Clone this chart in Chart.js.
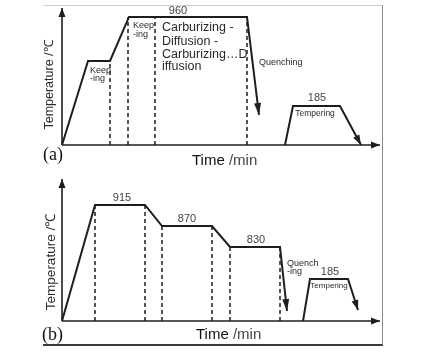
<!DOCTYPE html>
<html><head><meta charset="utf-8">
<script src="https://cdn.jsdelivr.net/npm/chart.js@4.4.1/dist/chart.umd.min.js"></script>
<style>
html,body{margin:0;padding:0;background:#fff;}
body{width:435px;height:353px;position:relative;overflow:hidden;}
#frame{position:absolute;left:43px;top:5px;width:339px;height:338px;border-top:1px solid #cfcfcf;border-right:1px solid #8a8a8a;border-bottom:2px solid #3a3a3a;}
canvas{position:absolute;left:0;}
#ca{top:0;}
#cb{top:176px;}
</style></head>
<body>
<div id="frame"></div>
<canvas id="ca" width="435" height="176"></canvas>
<canvas id="cb" width="435" height="177"></canvas>
<script>
// ---------- Panel (a): carburizing – diffusion process (schematic) ----------
const timeA      = [0, 26, 48, 67, 185, 197];      // heating, keeping, heating, carburizing/diffusion, quench
const levelA     = [0, 630, 630, 960, 960, 225];   // schematic temperature levels
const temperTimeA  = [223, 231, 278, 299];
const temperLevelA = [0, 292, 292, 0];
const dashTimeA  = [48, 66, 93, 185];
const dashTopA   = [630, 960, 960, 960];
const plateauLabelsA = ["960", "185"];

// ---------- Panel (b): stepped carburizing process (schematic) ----------
const timeB      = [0, 33, 83, 100, 150, 168, 218, 225];
const levelB     = [0, 915, 915, 749, 749, 584, 584, 79];
const temperTimeB  = [241, 248, 286, 296];
const temperLevelB = [0, 331, 331, 87];
const dashTimeB  = [33, 83, 100, 150, 168, 218];
const dashTopB   = [915, 915, 749, 749, 584, 584];
const plateauLabelsB = ["915", "870", "830", "185"];

const X_MAX = 318;
const Y_MAX_A = 1027;
const Y_MAX_B = 1120;

const INK = '#1e1e1e';
const SANS = '"Liberation Sans", Arial, sans-serif';
const SERIF = '"Liberation Serif", "Times New Roman", serif';

function pts(xs, ys){ return xs.map((x,i)=>({x:x, y:ys[i]})); }

function lineDs(data, opts){
  return Object.assign({type:'scatter', data:data, showLine:true, borderColor:INK, borderWidth:2,
    pointRadius:0, pointHoverRadius:0, fill:false, clip:false, tension:0}, opts||{});
}

function buildDatasets(time, level, tT, tL, dT, dTop, yMax){
  const ds = [];
  ds.push(lineDs([{x:0,y:0},{x:0,y:yMax}], {borderWidth:1.6, arrow:{len:9, half:3.5}}));
  ds.push(lineDs([{x:0,y:0},{x:X_MAX,y:0}], {borderWidth:1.6, arrow:{len:9, half:3.5}}));
  dT.forEach((x,i)=>{
    ds.push(lineDs([{x:x,y:0},{x:x,y:dTop[i]}], {borderWidth:1.5, borderDash:[4,3]}));
  });
  ds.push(lineDs(pts(time, level), {arrow:{len:12, half:3.5}}));
  ds.push(lineDs(pts(tT, tL), {arrow:{len:10, half:3.5}}));
  return ds;
}

const drawPlugin = {
  id:'schematic',
  afterDatasetsDraw(chart){
    const ctx = chart.ctx;
    const xs = chart.scales.x, ys = chart.scales.y;
    // arrowheads
    chart.data.datasets.forEach(ds=>{
      if(!ds.arrow) return;
      const n = ds.data.length;
      const a = ds.data[n-2], b = ds.data[n-1];
      const x1 = xs.getPixelForValue(a.x), y1 = ys.getPixelForValue(a.y);
      const x2 = xs.getPixelForValue(b.x), y2 = ys.getPixelForValue(b.y);
      const ang = Math.atan2(y2-y1, x2-x1);
      const L = ds.arrow.len, H = ds.arrow.half;
      ctx.save();
      ctx.translate(x2, y2);
      ctx.rotate(ang);
      ctx.beginPath();
      ctx.moveTo(0,0);
      ctx.lineTo(-L, -H);
      ctx.lineTo(-L, H);
      ctx.closePath();
      ctx.fillStyle = INK;
      ctx.fill();
      ctx.restore();
    });
    // annotations
    const notes = chart.options.plugins.schematic.notes || [];
    notes.forEach(n=>{
      ctx.save();
      ctx.font = n.font;
      ctx.fillStyle = n.color || '#2a2a2a';
      ctx.textAlign = n.align || 'center';
      ctx.textBaseline = 'middle';
      ctx.fillText(n.text, xs.getPixelForValue(n.x), ys.getPixelForValue(n.y));
      ctx.restore();
    });
    // titles (fixed layout)
    const t = chart.options.plugins.schematic.titles;
    ctx.save();
    ctx.fillStyle = '#2a2a2a';
    ctx.textBaseline = 'middle';
    ctx.save();
    ctx.translate(t.yTitleX, t.yTitleY);
    ctx.rotate(-Math.PI/2);
    ctx.textAlign = 'center';
    ctx.font = t.yFont;
    ctx.fillText('Temperature /℃', 0, 0);
    ctx.restore();
    ctx.textAlign = 'left';
    ctx.font = '15px ' + SANS;
    ctx.fillStyle = '#111';
    ctx.fillText('Time', t.xTitleX, t.xTitleY);
    const w = ctx.measureText('Time ').width;
    ctx.fillStyle = '#444';
    ctx.fillText('/min', t.xTitleX + w, t.xTitleY);
    ctx.fillStyle = '#111';
    ctx.font = '18px ' + SERIF;
    ctx.fillText(t.tag, t.tagX, t.tagY);
    ctx.restore();
  }
};

function makeChart(id, datasets, yMax, pad, notes, titles){
  return new Chart(document.getElementById(id), {
    type:'scatter',
    data:{datasets:datasets},
    options:{
      responsive:false, animation:false, events:[],
      layout:{padding:pad},
      scales:{
        x:{type:'linear', min:0, max:X_MAX, display:false},
        y:{type:'linear', min:0, max:yMax, display:false}
      },
      plugins:{legend:{display:false}, tooltip:{enabled:false},
        schematic:{notes:notes, titles:titles}}
    },
    plugins:[drawPlugin]
  });
}

const small = '9px ' + SANS;
const mid = '11px ' + SANS;
const big = '12.5px ' + SANS;

makeChart('ca',
  buildDatasets(timeA, levelA, temperTimeA, temperLevelA, dashTimeA, dashTopA, Y_MAX_A),
  Y_MAX_A, {left:62, right:55, top:8, bottom:31},
  [
    {text:plateauLabelsA[0], x:116, y:1005, font:mid, color:'#444'},
    {text:'Keep', x:28, y:562, font:small, align:'left'},
    {text:'-ing', x:28, y:495, font:small, align:'left'},
    {text:'Keep', x:71, y:892, font:small, align:'left'},
    {text:'-ing', x:71, y:825, font:small, align:'left'},
    {text:'Carburizing -', x:100, y:877, font:big, align:'left'},
    {text:'Diffusion -', x:100, y:772, font:big, align:'left'},
    {text:'Carburizing…D', x:100, y:675, font:big, align:'left'},
    {text:'iffusion', x:100, y:585, font:big, align:'left'},
    {text:'Quenching', x:197, y:615, font:small, align:'left'},
    {text:plateauLabelsA[1], x:255, y:352, font:mid, color:'#444'},
    {text:'Tempering', x:253, y:235, font:'8.5px ' + SANS}
  ],
  {yTitleX:50, yTitleY:85, yFont:'12.5px ' + SANS, xTitleX:192, xTitleY:161, tag:'(a)', tagX:43, tagY:155}
);

makeChart('cb',
  buildDatasets(timeB, levelB, temperTimeB, temperLevelB, dashTimeB, dashTopB, Y_MAX_B),
  Y_MAX_B, {left:62, right:55, top:3, bottom:32},
  [
    {text:plateauLabelsB[0], x:60, y:970, font:mid, color:'#444'},
    {text:plateauLabelsB[1], x:125, y:805, font:mid, color:'#444'},
    {text:plateauLabelsB[2], x:194, y:639, font:mid, color:'#444'},
    {text:'Quench', x:225, y:457, font:small, align:'left'},
    {text:'-ing', x:225, y:387, font:small, align:'left'},
    {text:plateauLabelsB[3], x:268, y:387, font:mid, color:'#444'},
    {text:'Tempering', x:267, y:276, font:'8px ' + SANS}
  ],
  {yTitleX:51, yTitleY:86, yFont:'13.5px ' + SANS, xTitleX:196, xTitleY:159, tag:'(b)', tagX:42, tagY:159}
);
</script>
</body></html>
